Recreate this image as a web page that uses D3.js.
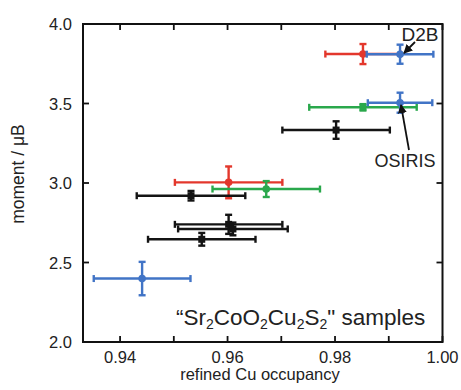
<!DOCTYPE html>
<html>
<head>
<meta charset="utf-8">
<script src="https://cdn.jsdelivr.net/npm/d3@7"></script>
<style>
  body { margin: 0; background: #fff; }
  svg { font-family: "Liberation Sans", Arial, sans-serif; }
</style>
</head>
<body>
<div id="chart"></div>
<script>
// refined Cu occupancy vs moment, one entry per sample
var occupancy    = [0.9852, 0.9921, 0.9852, 0.9921, 0.9802, 0.9602, 0.9672, 0.9532, 0.9602, 0.9610, 0.9552, 0.9441]
var occupancyErr = [0.0070, 0.0062, 0.0100, 0.0060, 0.0100, 0.0100, 0.0100, 0.0101, 0.0100, 0.0102, 0.0100, 0.0090]
var moment       = [3.811, 3.810, 3.476, 3.505, 3.333, 3.004, 2.962, 2.920, 2.740, 2.711, 2.646, 2.399]
var momentErr    = [0.063, 0.060, 0.020, 0.063, 0.055, 0.100, 0.050, 0.030, 0.060, 0.040, 0.040, 0.105]
var series       = ["red", "blue", "green", "blue", "black", "red", "green", "black", "black", "black", "black", "blue"]

var xTicks = [0.94, 0.95, 0.96, 0.97, 0.98, 0.99, 1.00]
var xLabels = [0.94, 0.96, 0.98, 1.00]
var yTicks = [2.0, 2.5, 3.0, 3.5, 4.0]

var colors = { red: "#e3372c", blue: "#4174c6", green: "#2aa84c", black: "#141414" }

var width = 461
var height = 390
// plot box edges (note: "top" is reserved on window)
var pLeft = 83, pRight = 442.5, pTop = 24, pBottom = 342

var svg = d3.select('#chart').append('svg')
    .attr('width', width)
    .attr('height', height)

var xScale = d3.scaleLinear().domain([0.9331, 1.0]).range([pLeft, pRight])
var yScale = d3.scaleLinear().domain([2.0, 4.0]).range([pBottom, pTop])

// ticks, inward on all four sides
var tickLen = 6
var axisG = svg.append('g').attr('stroke', '#111').attr('stroke-width', 1.8)
xTicks.forEach(function (t) {
    axisG.append('line').attr('x1', xScale(t)).attr('x2', xScale(t)).attr('y1', pBottom).attr('y2', pBottom - tickLen)
    axisG.append('line').attr('x1', xScale(t)).attr('x2', xScale(t)).attr('y1', pTop).attr('y2', pTop + tickLen)
})
yTicks.forEach(function (t) {
    axisG.append('line').attr('x1', pLeft).attr('x2', pLeft + tickLen).attr('y1', yScale(t)).attr('y2', yScale(t))
    axisG.append('line').attr('x1', pRight).attr('x2', pRight - tickLen).attr('y1', yScale(t)).attr('y2', yScale(t))
})

svg.append('rect')
    .attr('x', pLeft).attr('y', pTop)
    .attr('width', pRight - pLeft).attr('height', pBottom - pTop)
    .attr('fill', 'none').attr('stroke', '#111').attr('stroke-width', 2)

svg.selectAll('.xlab').data(xLabels).enter().append('text')
    .attr('x', function (d) { return xScale(d) })
    .attr('y', pBottom + 21)
    .attr('text-anchor', 'middle')
    .attr('font-size', 16.5)
    .attr('fill', '#222')
    .text(function (d) { return d3.format('.2f')(d) })

svg.selectAll('.ylab').data(yTicks).enter().append('text')
    .attr('x', pLeft - 11)
    .attr('y', function (d) { return yScale(d) + 6 })
    .attr('text-anchor', 'end')
    .attr('font-size', 16.5)
    .attr('fill', '#222')
    .text(function (d) { return d3.format('.1f')(d) })

svg.append('text')
    .attr('x', 260).attr('y', 380)
    .attr('text-anchor', 'middle')
    .attr('font-size', 16.5)
    .attr('fill', '#222')
    .text('refined Cu occupancy')

svg.append('text')
    .attr('transform', 'translate(24,174) rotate(-90)')
    .attr('text-anchor', 'middle')
    .attr('font-size', 17.5)
    .attr('fill', '#222')
    .text('moment / \u03bcB')

// error bars + markers
var cap = 3.5
var pts = svg.append('g')
occupancy.forEach(function (xv, i) {
    var c = colors[series[i]]
    var g = pts.append('g').attr('stroke', c).attr('stroke-width', 2.4).attr('fill', c)
    var cx = xScale(xv), cy = yScale(moment[i])
    var x0 = xScale(xv - occupancyErr[i]), x1 = xScale(xv + occupancyErr[i])
    var y0 = yScale(moment[i] - momentErr[i]), y1 = yScale(moment[i] + momentErr[i])
    g.append('line').attr('x1', x0).attr('x2', x1).attr('y1', cy).attr('y2', cy)
    g.append('line').attr('x1', x0).attr('x2', x0).attr('y1', cy - cap).attr('y2', cy + cap)
    g.append('line').attr('x1', x1).attr('x2', x1).attr('y1', cy - cap).attr('y2', cy + cap)
    g.append('line').attr('x1', cx).attr('x2', cx).attr('y1', y0).attr('y2', y1)
    g.append('line').attr('x1', cx - cap).attr('x2', cx + cap).attr('y1', y0).attr('y2', y0)
    g.append('line').attr('x1', cx - cap).attr('x2', cx + cap).attr('y1', y1).attr('y2', y1)
    if (series[i] === 'black' || (series[i] === 'green' && i === 2)) {
        g.append('rect').attr('x', cx - 3.5).attr('y', cy - 3.5).attr('width', 7).attr('height', 7).attr('stroke', 'none')
    } else {
        g.append('circle').attr('cx', cx).attr('cy', cy).attr('r', 3.8).attr('stroke', 'none')
    }
})

// annotations
svg.append('defs').append('marker')
    .attr('id', 'arr').attr('viewBox', '0 0 10 10')
    .attr('refX', 9).attr('refY', 5)
    .attr('markerWidth', 5).attr('markerHeight', 5)
    .attr('orient', 'auto')
    .append('path').attr('d', 'M0,0 L10,5 L0,10 Z').attr('fill', '#111')

svg.append('line')
    .attr('x1', 415).attr('y1', 42).attr('x2', 404).attr('y2', 53)
    .attr('stroke', '#111').attr('stroke-width', 1.8).attr('marker-end', 'url(#arr)')
svg.append('text')
    .attr('x', 420).attr('y', 41)
    .attr('text-anchor', 'middle')
    .attr('font-size', 19).attr('fill', '#222')
    .text('D2B')

svg.append('line')
    .attr('x1', 409).attr('y1', 150).attr('x2', 401).attr('y2', 105)
    .attr('stroke', '#111').attr('stroke-width', 1.8).attr('marker-end', 'url(#arr)')
svg.append('text')
    .attr('x', 405).attr('y', 167)
    .attr('text-anchor', 'middle')
    .attr('font-size', 18).attr('fill', '#222')
    .text('OSIRIS')

var formula = svg.append('text')
    .attr('x', 176).attr('y', 325)
    .attr('font-size', 22.5).attr('fill', '#222')
formula.append('tspan').text('\u201cSr')
formula.append('tspan').attr('font-size', 14).attr('dy', 4).text('2')
formula.append('tspan').attr('dy', -4).text('CoO')
formula.append('tspan').attr('font-size', 14).attr('dy', 4).text('2')
formula.append('tspan').attr('dy', -4).text('Cu')
formula.append('tspan').attr('font-size', 14).attr('dy', 4).text('2')
formula.append('tspan').attr('dy', -4).text('S')
formula.append('tspan').attr('font-size', 14).attr('dy', 4).text('2')
formula.append('tspan').attr('dy', -4).text('" samples')
</script>
</body>
</html>
